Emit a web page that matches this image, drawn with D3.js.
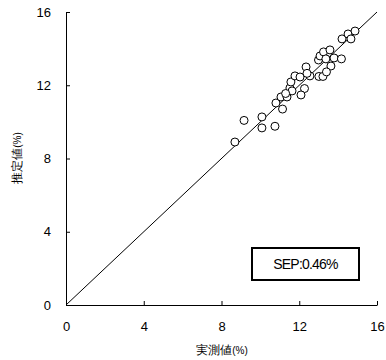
<!DOCTYPE html>
<html>
<head>
<meta charset="utf-8">
<script src="https://cdn.jsdelivr.net/npm/d3@7"></script>
<style>
  body { margin: 0; background: #fff; }
  text { font-family: 'Liberation Sans', Arial, sans-serif; }
</style>
</head>
<body>
<svg width="386" height="360"></svg>
<script>
// measured vs predicted values (%)
const measured = [
  8.69, 9.16, 10.08, 10.08, 10.75, 10.80, 11.14, 11.06, 11.37, 11.52,
  11.63, 11.57, 11.78, 12.04, 12.27, 12.09, 12.35, 12.55, 13.01, 13.22,
  12.99, 13.07, 13.25, 13.37, 13.58, 13.79, 13.63, 13.40, 14.17, 14.20,
  14.51, 14.66, 14.87, 11.30, 12.40
]
const predicted = [
  8.90, 10.08, 10.27, 9.67, 9.76, 11.03, 10.70, 11.36, 11.36, 11.85,
  11.69, 12.18, 12.51, 12.45, 11.82, 11.47, 13.00, 12.51, 12.48, 12.48,
  13.38, 13.60, 13.82, 13.44, 13.93, 13.49, 13.05, 12.73, 13.44, 14.53,
  14.80, 14.53, 14.96, 11.55, 12.65
]
const ticks = [0, 4, 8, 12, 16]
const sepLabel = 'SEP:0.46%'

const margin = { top: 12, right: 9, bottom: 55, left: 66 },
  width = 386 - margin.left - margin.right,
  height = 360 - margin.top - margin.bottom

const x = d3.scaleLinear().domain([0, 16]).range([0, width])
const y = d3.scaleLinear().domain([0, 16]).range([height, 0])

const svg = d3
  .select('svg')
  .append('g')
  .attr('transform', 'translate(' + margin.left + ',' + margin.top + ')')

// 1:1 line
svg
  .append('line')
  .attr('x1', x(0))
  .attr('y1', y(0))
  .attr('x2', x(16))
  .attr('y2', y(16))
  .attr('stroke', '#000')
  .attr('stroke-width', 1)

const xAxis = d3.axisBottom(x).tickValues(ticks).tickSizeInner(-4).tickSizeOuter(0).tickPadding(17)
const yAxis = d3.axisLeft(y).tickValues(ticks).tickSizeInner(-4).tickSizeOuter(0).tickPadding(15)

const gx = svg.append('g').attr('transform', `translate(0, ${height})`).call(xAxis)
const gy = svg.append('g').call(yAxis)
;[gx, gy].forEach((g) => {
  g.selectAll('text').attr('font-size', 13).attr('fill', '#000')
    .attr('font-family', "'Liberation Sans', Arial, sans-serif")
  g.selectAll('line, path').attr('stroke', '#000')
})

// points
svg
  .selectAll('circle')
  .data(measured)
  .enter()
  .append('circle')
  .attr('cx', (d) => x(d))
  .attr('cy', (d, i) => y(predicted[i]))
  .attr('r', 4)
  .attr('fill', '#fff')
  .attr('stroke', '#000')
  .attr('stroke-width', 1)

// SEP box
svg
  .append('rect')
  .attr('x', 186)
  .attr('y', 236)
  .attr('width', 107)
  .attr('height', 32)
  .attr('fill', '#fff')
  .attr('stroke', '#000')
  .attr('stroke-width', 2)
svg
  .append('text')
  .attr('x', 239.5)
  .attr('y', 257)
  .attr('text-anchor', 'middle')
  .attr('font-size', 14)
  .attr('letter-spacing', -0.8)
  .text(sepLabel)

// axis titles
const xt = d3.select('svg').append('text')
  .attr('x', 222)
  .attr('y', 354)
  .attr('text-anchor', 'middle')
  .attr('font-size', 12)
  .attr('font-weight', 500)
  .attr('font-family', "'Noto Sans CJK JP', sans-serif")
xt.append('tspan').text('実測値')
xt.append('tspan').attr('font-size', 10).attr('font-weight', 400).attr('font-family', "'Liberation Sans Narrow', 'Liberation Sans', sans-serif").text('(%)')

const yt = d3.select('svg').append('text')
  .attr('transform', 'translate(21,158) rotate(-90)')
  .attr('text-anchor', 'middle')
  .attr('font-size', 12)
  .attr('font-weight', 500)
  .attr('font-family', "'Noto Sans CJK JP', sans-serif")
yt.append('tspan').text('推定値')
yt.append('tspan').attr('font-size', 10).attr('font-weight', 400).attr('font-family', "'Liberation Sans Narrow', 'Liberation Sans', sans-serif").text('(%)')
</script>
</body>
</html>
